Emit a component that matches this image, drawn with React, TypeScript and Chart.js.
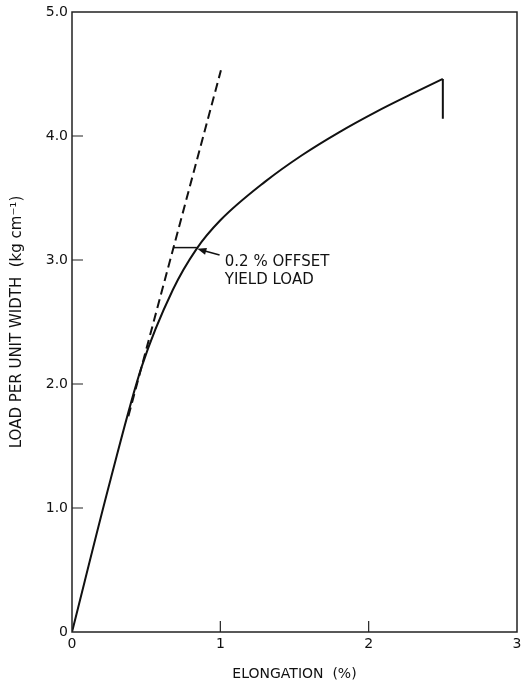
import React, { useEffect, useRef } from 'react';
import { Chart, registerables } from 'chart.js';
Chart.register(...registerables);

// Load–elongation curve (elongation %, load kg/cm)
const curveX = [0, 0.26, 0.47, 0.68, 0.84, 1.0, 1.3, 1.55, 1.8, 2.05, 2.28, 2.5];
const curveY = [0, 1.23, 2.14, 2.76, 3.09, 3.32, 3.63, 3.845, 4.03, 4.195, 4.333, 4.46];
// break at failure
const breakX = [2.5, 2.5];
const breakY = [4.46, 4.14];
// dashed initial-modulus line
const tangentX = [0.38, 1.004];
const tangentY = [1.74, 4.53];
// 0.2 % offset marker
const offsetLineX = [0.684, 0.842];
const offsetLineY = 3.1;
const arrowTail = [0.995, 3.04];
const arrowTip = [0.845, 3.09];
const noteAnchor = [1.03, 2.98];
const noteLines = ['0.2 % OFFSET', 'YIELD LOAD'];

const xTicks = [0, 1, 2, 3];
const yTicks = [0, 1, 2, 3, 4, 5];
const xTitle = 'ELONGATION  (%)';
const yTitle = 'LOAD PER UNIT WIDTH  (kg cm⁻¹)';

const FONT = "'DejaVu Sans', 'Liberation Sans', sans-serif";
const INK = '#111';

const pts = (xs: number[], ys: number[]) => xs.map((x, i) => ({ x, y: ys[i] }));

const framePlugin = {
  id: 'frame',
  afterDatasetsDraw(chart: any) {
    const { ctx, chartArea: a, scales } = chart;
    const xs = scales.x, ys = scales.y;
    ctx.save();
    ctx.strokeStyle = '#222';
    ctx.lineWidth = 1.5;
    ctx.strokeRect(a.left, a.top, a.right - a.left, a.bottom - a.top);
    // inner ticks
    ctx.lineWidth = 1.2;
    ctx.beginPath();
    xTicks.slice(1, -1).forEach((v) => {
      const px = xs.getPixelForValue(v);
      ctx.moveTo(px, a.bottom);
      ctx.lineTo(px, a.bottom - 11);
    });
    yTicks.slice(1, -1).forEach((v) => {
      const py = ys.getPixelForValue(v);
      ctx.moveTo(a.left, py);
      ctx.lineTo(a.left + 11, py);
    });
    ctx.stroke();
    // offset line
    ctx.strokeStyle = INK;
    ctx.lineWidth = 1.5;
    ctx.beginPath();
    ctx.moveTo(xs.getPixelForValue(offsetLineX[0]), ys.getPixelForValue(offsetLineY));
    ctx.lineTo(xs.getPixelForValue(offsetLineX[1]), ys.getPixelForValue(offsetLineY));
    ctx.stroke();
    // arrow
    const tx = xs.getPixelForValue(arrowTail[0]), ty = ys.getPixelForValue(arrowTail[1]);
    const hx = xs.getPixelForValue(arrowTip[0]), hy = ys.getPixelForValue(arrowTip[1]);
    const ang = Math.atan2(hy - ty, hx - tx);
    ctx.beginPath();
    ctx.moveTo(tx, ty);
    ctx.lineTo(hx - 6 * Math.cos(ang), hy - 6 * Math.sin(ang));
    ctx.stroke();
    ctx.fillStyle = INK;
    ctx.beginPath();
    ctx.moveTo(hx, hy);
    ctx.lineTo(hx - 9 * Math.cos(ang) + 3.5 * Math.sin(ang), hy - 9 * Math.sin(ang) - 3.5 * Math.cos(ang));
    ctx.lineTo(hx - 9 * Math.cos(ang) - 3.5 * Math.sin(ang), hy - 9 * Math.sin(ang) + 3.5 * Math.cos(ang));
    ctx.closePath();
    ctx.fill();
    // note text
    ctx.font = `15px ${FONT}`;
    ctx.textAlign = 'left';
    ctx.textBaseline = 'middle';
    const nx = xs.getPixelForValue(noteAnchor[0]);
    const ny = ys.getPixelForValue(noteAnchor[1]);
    noteLines.forEach((t, i) => ctx.fillText(t, nx, ny + i * 18));
    ctx.restore();
  },
};

export default function App() {
  const ref = useRef<HTMLCanvasElement>(null);
  useEffect(() => {
    if (!ref.current) return;
    const chart = new Chart(ref.current, {
      type: 'scatter',
      data: {
        datasets: [
          {
            data: pts(curveX, curveY),
            showLine: true,
            borderColor: INK,
            borderWidth: 2,
            pointRadius: 0,
            cubicInterpolationMode: 'monotone',
          },
          {
            data: pts(breakX, breakY),
            showLine: true,
            borderColor: INK,
            borderWidth: 2,
            pointRadius: 0,
          },
          {
            data: pts(tangentX, tangentY),
            showLine: true,
            borderColor: INK,
            borderWidth: 2,
            borderDash: [9, 5],
            pointRadius: 0,
          },
        ],
      } as any,
      options: {
        animation: false,
        responsive: false,
        layout: { padding: { left: 0, right: 4, top: 12, bottom: 0 } },
        plugins: { legend: { display: false }, tooltip: { enabled: false } },
        scales: {
          x: {
            type: 'linear',
            min: 0,
            max: 3,
            afterFit: (s: any) => { s.height = 51; s.paddingRight = 0; s.paddingLeft = 0; },
            afterBuildTicks: (s: any) => { s.ticks = xTicks.map((v) => ({ value: v })); },
            grid: { display: false, drawTicks: false },
            border: { display: false },
            ticks: {
              padding: 4,
              color: INK,
              font: { family: FONT, size: 14 },
              callback: (v: any) => String(v),
            },
            title: {
              display: true,
              text: xTitle,
              color: INK,
              font: { family: FONT, size: 14 },
              padding: { top: 0, bottom: 0 },
            },
          },
          y: {
            type: 'linear',
            min: 0,
            max: 5,
            afterFit: (s: any) => { s.width = 72; s.paddingTop = 0; s.paddingBottom = 0; },
            afterBuildTicks: (s: any) => { s.ticks = yTicks.map((v) => ({ value: v })); },
            grid: { display: false, drawTicks: false },
            border: { display: false },
            ticks: {
              padding: 4,
              color: INK,
              font: { family: FONT, size: 14 },
              callback: (v: any) => (v === 0 ? '0' : Number(v).toFixed(1)),
            },
            title: {
              display: true,
              text: yTitle,
              color: INK,
              font: { family: FONT, size: 15 },
              padding: { top: 8, bottom: 0 },
            },
          },
        },
      } as any,
      plugins: [framePlugin],
    });
    return () => chart.destroy();
  }, []);
  return (
    <div style={{ position: 'fixed', left: 0, top: 0, width: 521, height: 683, background: '#fff' }}>
      <canvas ref={ref} width={521} height={683} />
    </div>
  );
}
